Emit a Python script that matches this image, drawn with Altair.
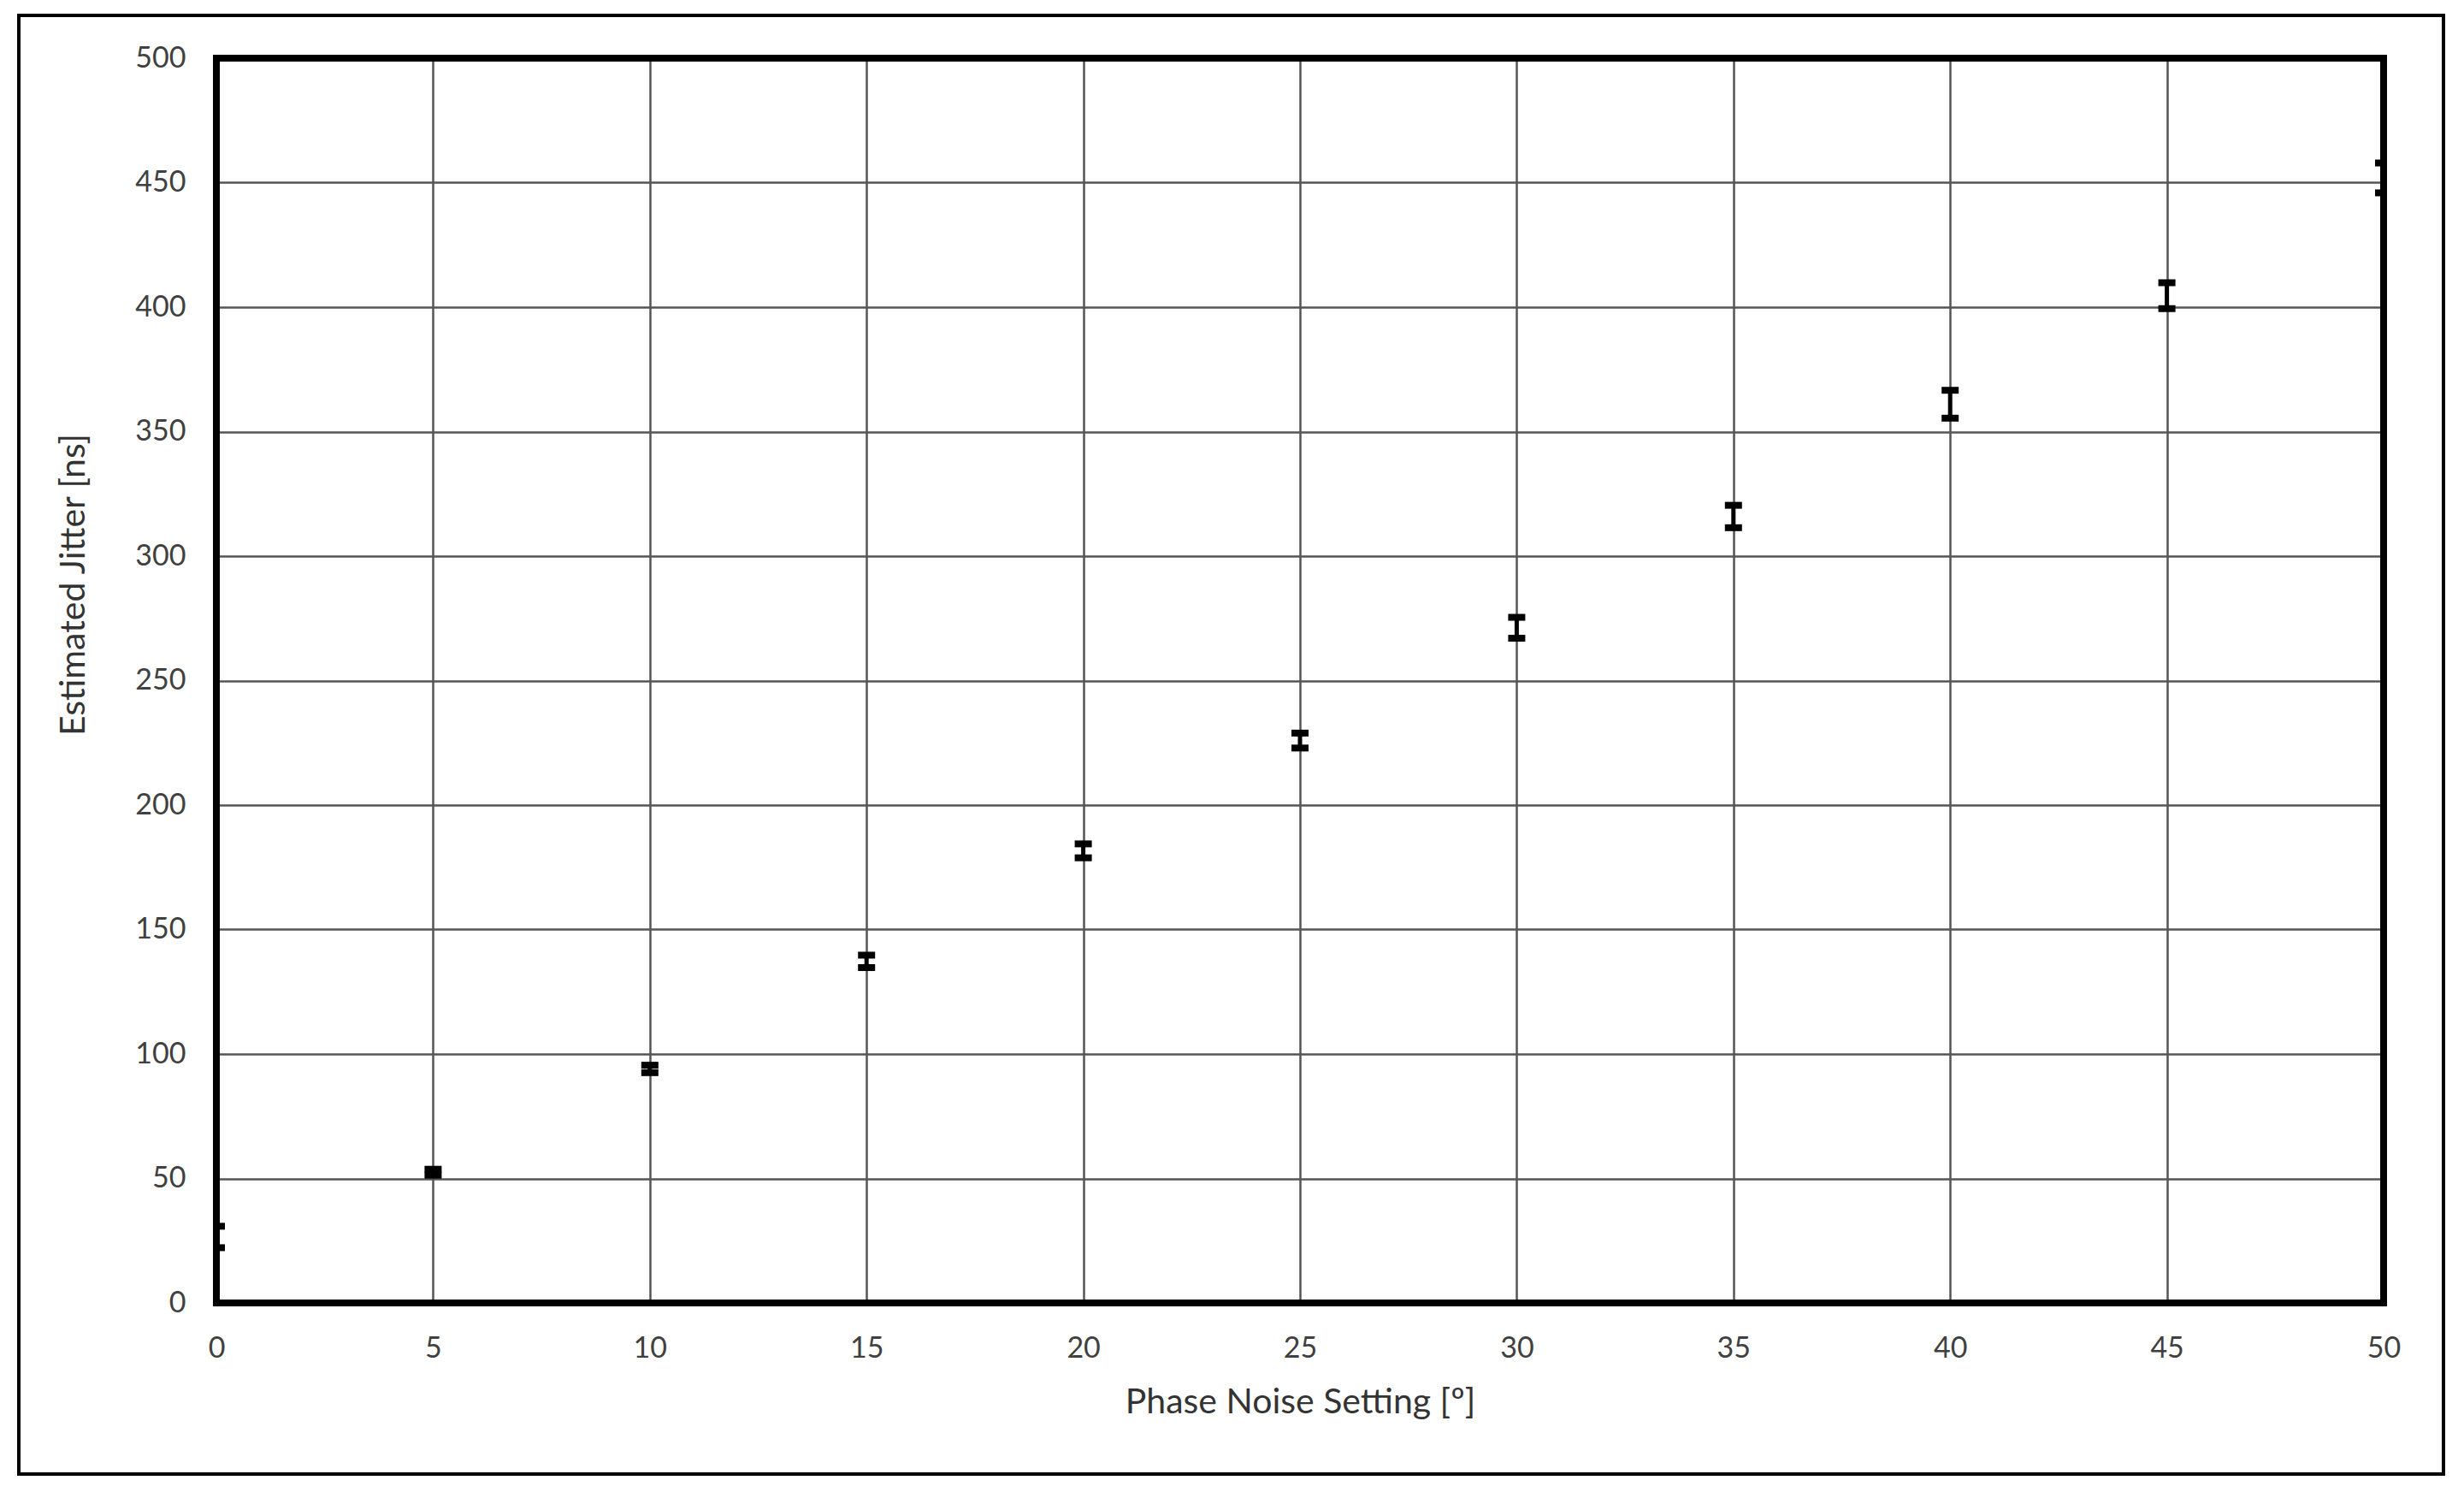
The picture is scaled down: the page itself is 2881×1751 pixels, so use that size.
import altair as alt
import pandas as pd

# phase noise setting [º] and estimated jitter [ns] with +/- error
phase_noise = [0, 5, 10, 15, 20, 25, 30, 35, 40, 45, 50]
jitter_mean = [26.5, 52.5, 94.0, 137.2, 181.6, 225.9, 271.2, 315.9, 361.0, 404.6, 451.9]
jitter_err = [4.3, 1.2, 1.5, 2.5, 2.8, 3.0, 4.2, 4.5, 5.6, 5.2, 6.0]

x_ticks = list(range(0, 51, 5))
y_ticks = list(range(0, 501, 50))

df = pd.DataFrame({"phase": phase_noise, "jitter": jitter_mean, "err": jitter_err})

W, H = 2534, 1455
FONT = "Lato"

base = alt.Chart(df).transform_calculate(
    lo="datum.jitter - datum.err",
    hi="datum.jitter + datum.err",
)

x_enc = alt.X(
    "phase:Q",
    title="Phase Noise Setting [º]",
    scale=alt.Scale(domain=[0, 50], nice=False),
    axis=alt.Axis(values=x_ticks, labelPadding=36, titlePadding=26, ticks=False,
                  domain=False, labelFlush=False),
)
y_scale = alt.Scale(domain=[0, 500], nice=False)
y_axis = alt.Axis(values=y_ticks, labelPadding=36, titlePadding=50, ticks=False,
                  domain=False, labelFlush=False, titleY=615)

stems = base.mark_rule(color="black", strokeWidth=5, clip=True).encode(
    x=x_enc,
    y=alt.Y("lo:Q", title="Estimated Jitter [ns]", scale=y_scale, axis=y_axis),
    y2="hi:Q",
)
caps_lo = base.mark_tick(color="black", orient="horizontal", thickness=8, size=20,
                         opacity=1, clip=True).encode(x="phase:Q", y="lo:Q")
caps_hi = base.mark_tick(color="black", orient="horizontal", thickness=8, size=20,
                         opacity=1, clip=True).encode(x="phase:Q", y="hi:Q")

# thin frame round the whole figure
frame = alt.Chart(df).mark_rect(fill="transparent", stroke="black", strokeWidth=4).encode(
    x=alt.value(-231), x2=alt.value(2604), y=alt.value(-50), y2=alt.value(1655)
)
# thick border round the plot area, on top of the grid
border = alt.Chart(df).mark_rect(fill="transparent", stroke="black", strokeWidth=7).encode(
    x=alt.value(0), x2=alt.value(W), y=alt.value(0), y2=alt.value(H)
)

chart = alt.layer(stems, caps_lo, caps_hi, border, frame).properties(
    width=W,
    height=H,
    padding={"left": 245, "top": 60, "right": 80, "bottom": 220},
    autosize=alt.AutoSizeParams(type="none"),
).configure_axis(
    grid=True,
    gridColor="#555555",
    gridWidth=2.5,
    gridOpacity=1,
    labelFont=FONT,
    labelFontSize=34,
    labelColor="#404040",
    titleFont=FONT,
    titleFontSize=41,
    titleFontWeight="normal",
    titleColor="#333333",
).configure_view(
    stroke=None
)

chart.save("out.html", embed_options={"renderer": "svg", "actions": False})
